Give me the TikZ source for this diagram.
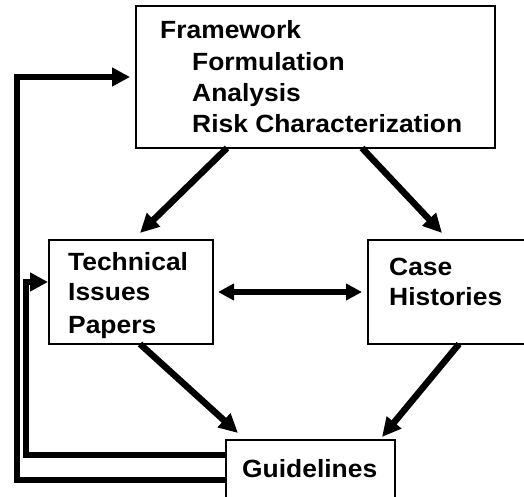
\documentclass[tikz,border=0pt]{standalone}
\usepackage{fontspec}
\setmainfont{Liberation Sans}[FakeStretch=1.06]
\usepackage{tikz}
\usetikzlibrary{arrows.meta}

\tikzset{
  box/.style={draw, line width=2bp, inner sep=0pt, outer sep=0pt, anchor=north west},
  txt/.style={anchor=base west, inner sep=0pt, font=\fontsize{25}{30}\selectfont\bfseries},
  arr/.style={line width=6.5bp, -{Triangle[length=19bp,width=18bp]}},
  dbl/.style={line width=5.5bp, {Triangle[length=16bp,width=16bp]}-{Triangle[length=16bp,width=16bp]}},
  feedback/.style={line width=6.5bp, line join=miter, -{Triangle[length=18bp,width=18bp]}}
}

\begin{document}
\begin{tikzpicture}[x=1bp,y=-1bp]
\useasboundingbox (0,0) rectangle (524,497);
\clip (0,0) rectangle (524,497);

\node[box, minimum width=359bp, minimum height=142bp] (frame) at (136,6) {};
\node[box, minimum width=164bp, minimum height=104bp] (tech) at (49,240) {};
\node[box, minimum width=170bp, minimum height=104bp] (case) at (368,240) {};
\node[box, minimum width=169bp, minimum height=60bp] (guide) at (226,440) {};

\node[txt] (fw) at (160,39) {Framework};
\node[txt] (form) at (192,71) {Formulation};
\node[txt] (anal) at (192,102) {Analysis};
\node[txt] (risk) at (192,133) {Risk Characterization};
\node[txt] (techa) at (68,270) {Technical};
\node[txt] (techb) at (68,300) {Issues};
\node[txt] (techc) at (68,333) {Papers};
\node[txt] (casea) at (389,275) {Case};
\node[txt] (caseb) at (389,305) {Histories};
\node[txt] (gl) at (242,477) {Guidelines};

\draw[arr] ([xshift=-88.5bp]frame.south) -- ([xshift=9bp,yshift=7bp]tech.north);
\draw[arr] ([xshift=46.5bp]frame.south) -- ([xshift=-11bp,yshift=7bp]case.north);
\draw[arr] ([xshift=9bp]tech.south) -- ([xshift=-72.5bp,yshift=7bp]guide.north);
\draw[arr] ([xshift=6bp]case.south) -- ([xshift=71.5bp,yshift=3bp]guide.north);
\draw[dbl, shorten <=5bp, shorten >=6bp] (tech.east) -- (case.west);

\coordinate (outer) at (17,0);
\coordinate (inner) at (26,0);
\coordinate (techin) at ([yshift=10bp]tech.west);
\draw[feedback] ([yshift=-10bp]guide.west) -| (frame.west -| outer) -- ([xshift=-6bp]frame.west);
\draw[feedback] ([yshift=15bp]guide.west) -| (techin -| inner) -- ([xshift=-1bp]techin);
\end{tikzpicture}
\end{document}
